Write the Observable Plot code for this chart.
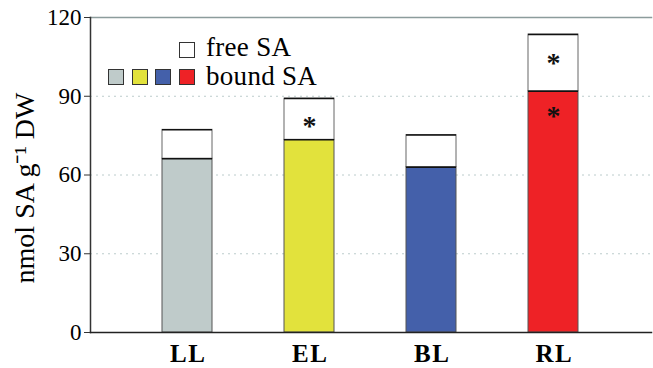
<!DOCTYPE html>
<html>
<head>
<meta charset="utf-8">
<script src="https://cdn.jsdelivr.net/npm/d3@7"></script>
<script src="https://cdn.jsdelivr.net/npm/@observablehq/plot@0.6"></script>
<style>
  html, body { margin: 0; padding: 0; background: #fff; }
  #wrap { position: relative; width: 653px; height: 368px; overflow: hidden; font-family: 'Liberation Serif'; }
  .lg { position: absolute; font-size: 27px; color: #000; line-height: 1; white-space: nowrap; letter-spacing: 0.3px; font-family: 'Liberation Serif'; }
  .sq { position: absolute; width: 16px; height: 16px; border: 1.3px solid #333; box-sizing: border-box; }
</style>
</head>
<body>
<div id="wrap"></div>
<script>
const categories = ["LL", "EL", "BL", "RL"];
const boundSA = [66.2, 73.4, 63.0, 91.9];
const totalSA = [77.2, 89.1, 75.2, 113.5];
const barColors = ["#bfcbca", "#e2e23c", "#4460aa", "#ee2226"];
const yTicks = [0, 30, 60, 90, 120];
const starCats = ["EL", "RL", "RL"];
const starVals = [78.5, 102.5, 82.3];

const rows = categories.map((c, i) => ({cat: c, bound: boundSA[i], total: totalSA[i], color: barColors[i]}));
const stars = starCats.map((c, i) => ({cat: c, v: starVals[i]}));
const serif = "Liberation Serif";

const chart = Plot.plot({
  width: 653, height: 368,
  marginLeft: 90, marginRight: 2, marginTop: 17, marginBottom: 36,
  style: {fontFamily: serif, color: "#000", background: "#fff"},
  x: {domain: categories, padding: 0.59, axis: null, label: null},
  y: {domain: [0, 120], axis: null, label: null},
  color: {type: "identity"},
  marks: [
    Plot.ruleY([30, 60, 90], {stroke: "#bccccc", strokeDasharray: "2,4", strokeWidth: 1}),
    Plot.frame({anchor: "top", stroke: "#8c9c9c", strokeWidth: 1.5}),
    Plot.barY(rows, {x: "cat", y1: 0, y2: "bound", fill: "color", stroke: "#555", strokeWidth: 1}),
    Plot.barY(rows, {x: "cat", y1: "bound", y2: "total", fill: "#fff", stroke: "#666", strokeWidth: 1}),
    Plot.tickY(rows, {x: "cat", y: "total", stroke: "#111", strokeWidth: 1.5}),
    Plot.tickY(rows, {x: "cat", y: "bound", stroke: "#111", strokeWidth: 1.5}),
    Plot.text(stars, {x: "cat", y: "v", text: () => "*", fontSize: 28, fontWeight: "bold", fill: "#111", fontFamily: serif}),
    Plot.frame({anchor: "left", stroke: "#333", strokeWidth: 1.5}),
    Plot.frame({anchor: "bottom", stroke: "#222", strokeWidth: 1.5}),
    Plot.axisY({ticks: yTicks, tickSize: 6, tickPadding: 3, fontSize: 23, fontFamily: serif, stroke: "#333", label: null}),
    Plot.axisX({tickSize: 0, tickPadding: 12, fontSize: 25, fontWeight: "bold", fontFamily: serif, label: null}),
    Plot.text(["nmol SA g\u207B\u00B9 DW"], {frameAnchor: "left", textAnchor: "middle", dx: -65, dy: 13, rotate: -90, fontSize: 28, fontFamily: serif, text: d => d})
  ]
});

const wrap = document.getElementById("wrap");
wrap.appendChild(chart);
d3.select(chart).selectAll("g[aria-label='x-axis tick label'] text").attr("letter-spacing", "1.5px").attr("dx", "0.75");

function addSq(x, y, color) {
  const s = document.createElement("div");
  s.className = "sq";
  s.style.left = x + "px"; s.style.top = y + "px"; s.style.background = color;
  wrap.appendChild(s);
}
function addText(x, y, t) {
  const d = document.createElement("div");
  d.className = "lg";
  d.style.left = x + "px"; d.style.top = y + "px";
  d.textContent = t;
  wrap.appendChild(d);
}
addSq(179, 42, "#fff");
addText(206, 34, "free SA");
const legX = [108, 132, 155, 179];
barColors.forEach((c, i) => addSq(legX[i], 69, c));
addText(206, 63, "bound SA");
</script>
</body>
</html>
